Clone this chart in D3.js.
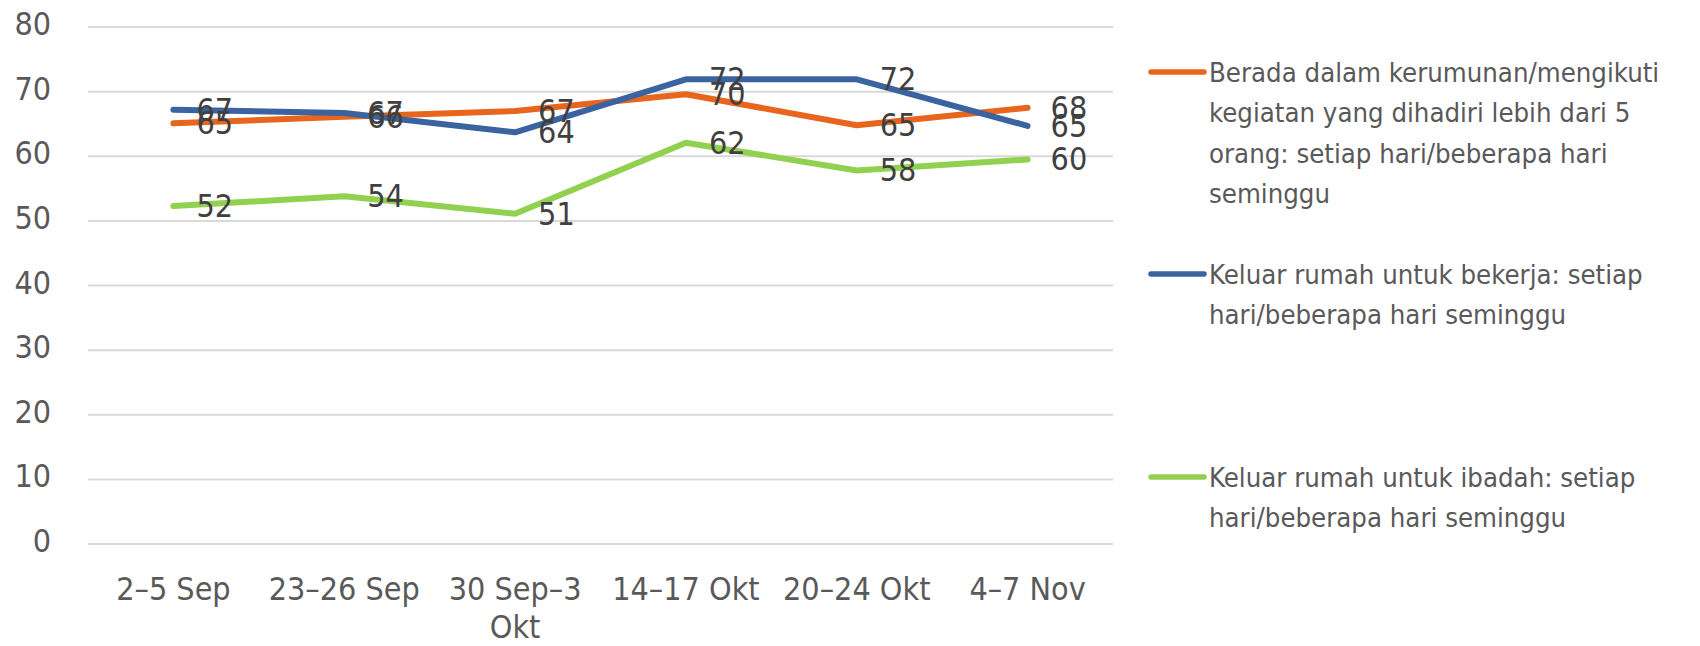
<!DOCTYPE html>
<html><head><meta charset="utf-8">
<script src="https://cdn.jsdelivr.net/npm/d3@7"></script>
<style>
html,body{margin:0;padding:0;background:#fff;}
svg text{font-family:"Liberation Sans Narrow","DejaVu Sans Condensed","Noto Sans",sans-serif;}
</style></head>
<body><svg id="c" width="1700" height="646"></svg>
<script>
const categories = ["2–5 Sep", "23–26 Sep", "30 Sep–3 Okt", "14–17 Okt", "20–24 Okt", "4–7 Nov"];
const seriesNames = [
  "Berada dalam kerumunan/mengikuti kegiatan yang dihadiri lebih dari 5 orang: setiap hari/beberapa hari seminggu",
  "Keluar rumah untuk bekerja: setiap hari/beberapa hari seminggu",
  "Keluar rumah untuk ibadah: setiap hari/beberapa hari seminggu"
];
const kerumunan = [65.1, 66.1, 67.0, 69.6, 64.8, 67.5];
const bekerja = [67.2, 66.7, 63.7, 71.9, 71.9, 64.7];
const ibadah = [52.3, 53.8, 51.1, 62.1, 57.8, 59.5];
const yTicks = [0, 10, 20, 30, 40, 50, 60, 70, 80];
const legendLines = [
  ["Berada dalam kerumunan/mengikuti", "kegiatan yang dihadiri lebih dari 5", "orang: setiap hari/beberapa hari", "seminggu"],
  ["Keluar rumah untuk bekerja: setiap", "hari/beberapa hari seminggu"],
  ["Keluar rumah untuk ibadah: setiap", "hari/beberapa hari seminggu"]
];
const xLabelLines = [["2–5 Sep"], ["23–26 Sep"], ["30 Sep–3", "Okt"], ["14–17 Okt"], ["20–24 Okt"], ["4–7 Nov"]];
const colors = ["#E8651E", "#3A63A0", "#92D050"];

(function () {
const series = [kerumunan, bekerja, ibadah];
const svg = d3.select("#c");
const pl = 88, pr = 1113, pt = 27, pb = 544;
const fs = 32;

const x = d3.scaleBand().domain(categories).range([pl, pr]);
const y = d3.scaleLinear().domain([0, 80]).range([pb, pt]);

svg.append("g").selectAll("line").data(yTicks).join("line")
  .attr("x1", pl).attr("x2", pr)
  .attr("y1", d => y(d)).attr("y2", d => y(d))
  .attr("stroke", "#D9D9D9").attr("stroke-width", 2);

svg.append("g").selectAll("text").data(yTicks).join("text")
  .attr("x", 51).attr("y", d => y(d) - 3)
  .attr("text-anchor", "end").attr("dominant-baseline", "central")
  .attr("font-size", fs).attr("fill", "#595959")
  .text(d => d);

const xg = svg.append("g");
categories.forEach((c, i) => {
  const t = xg.append("text")
    .attr("x", x(c) + x.bandwidth() / 2).attr("y", 600)
    .attr("text-anchor", "middle").attr("font-size", fs).attr("fill", "#595959");
  xLabelLines[i].forEach((ln, j) => {
    t.append("tspan").attr("x", x(c) + x.bandwidth() / 2).attr("dy", j === 0 ? 0 : 38).text(ln);
  });
});

const line = d3.line().x((d, i) => x(categories[i]) + x.bandwidth() / 2).y(d => y(d));
series.forEach((s, k) => {
  svg.append("path").datum(s).attr("d", line)
    .attr("fill", "none").attr("stroke", colors[k]).attr("stroke-width", 6)
    .attr("stroke-linejoin", "round").attr("stroke-linecap", "round");
});

series.forEach((s, k) => {
  svg.append("g").selectAll("text").data(s).join("text")
    .attr("x", (d, i) => x(categories[i]) + x.bandwidth() / 2 + 23)
    .attr("y", d => y(d))
    .attr("dominant-baseline", "central")
    .attr("font-size", fs).attr("fill", "#404040")
    .text(d => Math.round(d));
});

const legY = [72, 274, 477];
legendLines.forEach((lines, k) => {
  svg.append("line").attr("x1", 1151).attr("x2", 1204)
    .attr("y1", legY[k]).attr("y2", legY[k])
    .attr("stroke", colors[k]).attr("stroke-width", 5.5).attr("stroke-linecap", "round");
  lines.forEach((ln, j) => {
    svg.append("text").attr("x", 1209).attr("y", legY[k] + j * 40.6)
      .attr("dominant-baseline", "central")
      .attr("font-size", 27.3).attr("fill", "#595959").text(ln);
  });
});
})();
</script></body></html>
